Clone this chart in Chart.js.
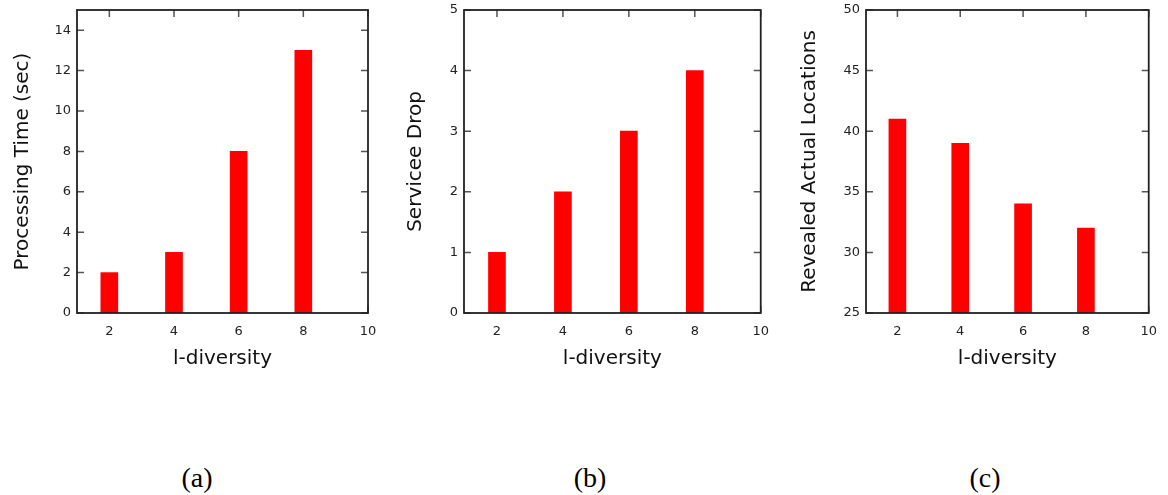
<!DOCTYPE html>
<html>
<head>
<meta charset="utf-8">
<script src="https://cdn.jsdelivr.net/npm/chart.js@4.4.0/dist/chart.umd.min.js"></script>
<style>
  body { margin: 0; background: #fff; width: 1168px; height: 495px; position: relative; overflow: hidden; }
  .panel { position: absolute; top: 0; height: 380px; }
  .caption { position: absolute; top: 462px; font-family: "Liberation Serif", serif; font-size: 28px; color: #000; transform: translateX(-50%); }
</style>
</head>
<body>
<div class="panel" style="left:0;width:390px"><canvas id="chartA"></canvas></div>
<div class="panel" style="left:390px;width:390px"><canvas id="chartB"></canvas></div>
<div class="panel" style="left:780px;width:388px"><canvas id="chartC"></canvas></div>
<div class="caption" style="left:197px">(a)</div>
<div class="caption" style="left:590px">(b)</div>
<div class="caption" style="left:985px">(c)</div>
<script>
// l-diversity 값과 각 패널 데이터
const lDiversity = [2, 4, 6, 8];
const xTicks = [2, 4, 6, 8, 10];

const processingTime = [2, 3, 8, 13];
const serviceeDrop = [1, 2, 3, 4];
const revealedLocations = [41, 39, 34, 32];

const timeTicks = [0, 2, 4, 6, 8, 10, 12, 14];
const dropTicks = [0, 1, 2, 3, 4, 5];
const revealedTicks = [25, 30, 35, 40, 45, 50];

// 안쪽 눈금 + 테두리 (gnuplot 스타일)
const frameTicks = {
  id: "frameTicks",
  beforeDatasetsDraw(chart) {
    const { ctx, chartArea: a, scales } = chart;
    const len = 7;
    ctx.save();
    ctx.strokeStyle = "#555";
    ctx.lineWidth = 1.5;
    ctx.beginPath();
    scales.y.ticks.forEach((t) => {
      const py = scales.y.getPixelForValue(t.value);
      ctx.moveTo(a.left, py);
      ctx.lineTo(a.left + len, py);
      ctx.moveTo(a.right, py);
      ctx.lineTo(a.right - len, py);
    });
    scales.x.ticks.forEach((t) => {
      const px = scales.x.getPixelForValue(t.value);
      ctx.moveTo(px, a.top);
      ctx.lineTo(px, a.top + len);
      ctx.moveTo(px, a.bottom);
      ctx.lineTo(px, a.bottom - len);
    });
    ctx.stroke();
    ctx.restore();
  },
  afterDatasetsDraw(chart) {
    const { ctx, chartArea: a } = chart;
    ctx.save();
    ctx.strokeStyle = "#222";
    ctx.lineWidth = 1.8;
    ctx.strokeRect(a.left, a.top, a.right - a.left, a.bottom - a.top);
    ctx.restore();
  },
};

function createPanel(id, values, yTicks, yMin, yMax, yTitle, box) {
  const ctx = document.getElementById(id).getContext("2d");
  new Chart(ctx, {
    type: "bar",
    data: {
      datasets: [
        {
          data: lDiversity.map((x, i) => ({ x: x, y: values[i] })),
          backgroundColor: "#ff0000",
          borderWidth: 0,
          barThickness: 17,
        },
      ],
    },
    options: {
      responsive: true,
      maintainAspectRatio: false,
      animation: false,
      layout: {
        padding: { left: 0, right: box.right, top: 10, bottom: 0 },
      },
      plugins: {
        legend: { display: false },
        tooltip: { enabled: false },
      },
      scales: {
        x: {
          type: "linear",
          min: 1,
          max: 10,
          offset: false,
          grid: { display: false, drawTicks: false },
          border: { display: false },
          afterBuildTicks: (s) => {
            s.ticks = xTicks.map((v) => ({ value: v }));
          },
          afterFit: (s) => {
            s.height = 67;
          },
          ticks: {
            color: "#222",
            padding: 11,
            maxRotation: 0,
            font: { family: "DejaVu Sans", size: 13 },
          },
          title: {
            display: true,
            text: "l-diversity",
            color: "#111",
            font: { family: "DejaVu Sans", size: 20 },
            padding: { top: 0, bottom: 9 },
          },
        },
        y: {
          min: yMin,
          max: yMax,
          grid: { display: false, drawTicks: false },
          border: { display: false },
          afterBuildTicks: (s) => {
            s.ticks = yTicks.map((v) => ({ value: v }));
          },
          afterFit: (s) => {
            s.width = box.axis;
            // 위쪽 라벨 여백이 플롯 영역을 밀어내지 않도록
            s.paddingTop = 0;
            s.paddingBottom = 0;
          },
          ticks: {
            color: "#222",
            padding: 6,
            font: { family: "DejaVu Sans", size: 13 },
          },
          title: {
            display: true,
            text: yTitle,
            color: "#111",
            font: { family: "DejaVu Sans", size: 20 },
            padding: { top: box.title, bottom: 0 },
          },
        },
      },
    },
    plugins: [frameTicks],
  });
}

createPanel("chartA", processingTime, timeTicks, 0, 15, "Processing Time (sec)", { axis: 77, right: 22, title: 11 });
createPanel("chartB", serviceeDrop, dropTicks, 0, 5, "Servicee Drop", { axis: 74, right: 18, title: 14 });
createPanel("chartC", revealedLocations, revealedTicks, 25, 50, "Revealed Actual Locations", { axis: 86, right: 12, title: 18 });
</script>
</body>
</html>
